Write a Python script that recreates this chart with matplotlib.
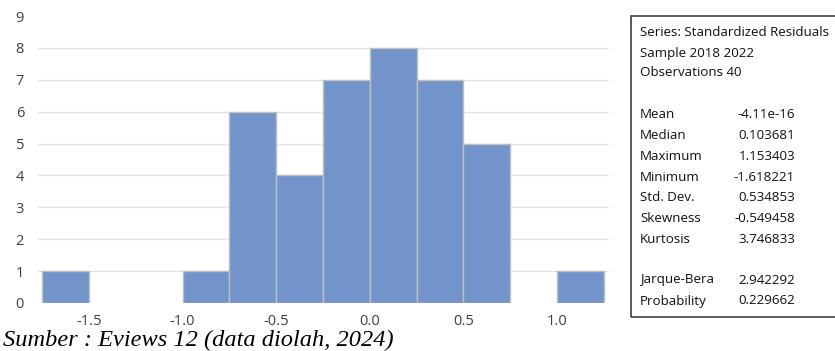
import matplotlib.pyplot as plt
from matplotlib.patches import Rectangle
import numpy as np

# histogram of standardized residuals (bin width 0.25)
bin_left = [-1.75, -1.5, -1.25, -1.0, -0.75, -0.5, -0.25, 0.0, 0.25, 0.5, 0.75, 1.0]
counts = [1, 0, 0, 1, 6, 4, 7, 8, 7, 5, 0, 1]
xticks = [-1.5, -1.0, -0.5, 0.0, 0.5, 1.0]
stat_names = ["Mean", "Median", "Maximum", "Minimum", "Std. Dev.", "Skewness", "Kurtosis"]
stat_values = ["-4.11e-16", "0.103681", "1.153403", "-1.618221", "0.534853", "-0.549458", "3.746833"]
jb_names = ["Jarque-Bera", "Probability"]
jb_values = ["2.942292", "0.229662"]
header = ["Series: Standardized Residuals", "Sample 2018 2022", "Observations 40"]

W, H = 835, 351
fig = plt.figure(figsize=(W/100, H/100), dpi=100)
ax = fig.add_axes([38/W, 1-303/H, (609-38)/W, (303-16)/H])

left = np.array(bin_left)
c = np.array(counts)
keep = c > 0
ax.bar(left[keep], c[keep], width=0.25, align='edge', color='#7294CB',
       edgecolor='#BFBFBF', linewidth=1, zorder=3)

for y in range(1, 9):
    ax.axhline(y, color='#E3E3E3', linewidth=1, zorder=1)

ax.set_xlim(-1.772, 1.277)
ax.set_ylim(0, 9)
ax.set_yticks(range(10))
ax.set_xticks(xticks)
ax.set_xticklabels(["%.1f" % v for v in xticks])
for s in ax.spines.values():
    s.set_visible(False)
ax.tick_params(length=0, labelsize=10.5, colors='#404040')
ax.tick_params(axis='y', pad=10)
ax.tick_params(axis='x', pad=8)
for lab in ax.get_xticklabels() + ax.get_yticklabels():
    lab.set_fontfamily('Open Sans')

# stats box
fig.patches.append(Rectangle((631/W, 1-317/H), (W-631+5)/W, (317-16)/H,
                             transform=fig.transFigure, fill=False,
                             edgecolor='#404040', linewidth=1.2))
fs = 9.6
def row(y, name, val=None):
    fig.text(640/W, 1-y/H, name, fontsize=fs, family='Open Sans',
             va='center', ha='left', color='#111111')
    if val is not None:
        fig.text(795/W, 1-y/H, val, fontsize=fs, family='Open Sans',
                 va='center', ha='right', color='#111111')

ys = [32, 53, 73]
for y, t in zip(ys, header):
    row(y, t)
for i, (n, v) in enumerate(zip(stat_names, stat_values)):
    row(115 + i*20.7, n, v)
for i, (n, v) in enumerate(zip(jb_names, jb_values)):
    row(280 + i*21, n, v)

fig.text(3/W, 1-340/H, "Sumber : Eviews 12 (data diolah, 2024)", fontsize=17.6,
         family='Liberation Serif', style='italic', va='center', ha='left')

fig.savefig("out.png", dpi=100)
